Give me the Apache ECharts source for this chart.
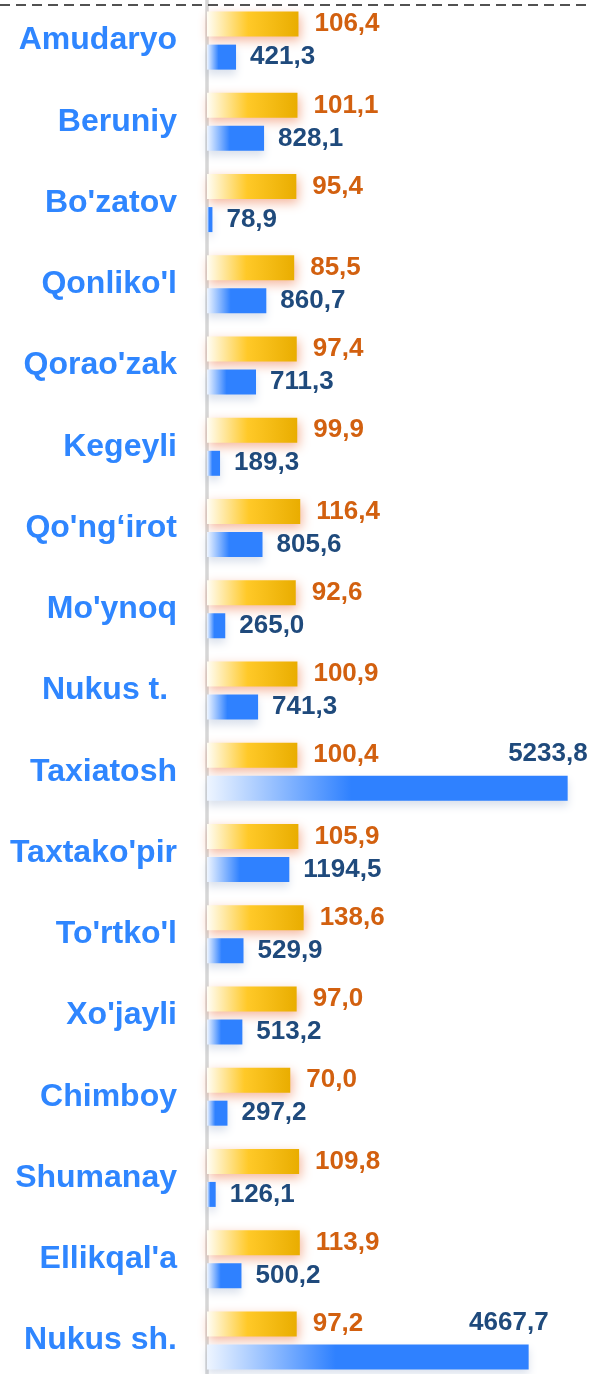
<!DOCTYPE html>
<html>
<head>
<meta charset="utf-8">
<script src="https://cdn.jsdelivr.net/npm/echarts@6/dist/echarts.min.js"></script>
<style>
html,body{margin:0;padding:0;background:#fff;}
#chart{width:591px;height:1374px;}
</style>
</head>
<body>
<div id="chart"></div>
<script>
const categories = ['Amudaryo', 'Beruniy', "Bo'zatov", "Qonliko'l", "Qorao'zak", 'Kegeyli', 'Qo\'ng\u2018irot', "Mo'ynoq", 'Nukus t. ', 'Taxiatosh', "Taxtako'pir", "To'rtko'l", "Xo'jayli", 'Chimboy', 'Shumanay', "Ellikqal'a", 'Nukus sh.'];
const growthPct = [106.4, 101.1, 95.4, 85.5, 97.4, 99.9, 116.4, 92.6, 100.9, 100.4, 105.9, 138.6, 97.0, 70.0, 109.8, 113.9, 97.2];
const volume = [421.3, 828.1, 78.9, 860.7, 711.3, 189.3, 805.6, 265.0, 741.3, 5233.8, 1194.5, 529.9, 513.2, 297.2, 126.1, 500.2, 4667.7];

const fmt = v => Number(v).toFixed(1).replace('.', ',');
const FONT = '"Liberation Sans", Arial, sans-serif';
const vmax = Math.max(...volume);

const volumeData = volume.map(v => {
  if (v > vmax * 0.5) {
    return {
      value: v,
      label: { position: ['100%', 0], align: 'right', verticalAlign: 'middle', offset: [20, -22] }
    };
  }
  return v;
});

const chart = echarts.init(document.getElementById('chart'), null, { renderer: 'canvas' });
chart.setOption({
  animation: false,
  backgroundColor: '#ffffff',
  grid: { left: 207, right: 5, top: 0, height: 1381, containLabel: false, outerBoundsMode: 'none' },
  yAxis: {
    type: 'category',
    data: categories,
    inverse: true,
    offset: 3,
    axisLine: { show: true, lineStyle: { color: '#d6d6d6', width: 3.5 } },
    axisTick: { show: false },
    splitLine: { show: false },
    axisLabel: { color: '#2f86ff', fontSize: 32, fontWeight: 'bold', fontFamily: FONT, margin: 27 }
  },
  xAxis: [
    { type: 'log', logBase: 10, min: 1, max: 250000000, show: false },
    { type: 'value', min: 0, max: 5500, show: false }
  ],
  series: [
    {
      name: 'growth',
      type: 'bar',
      xAxisIndex: 0,
      data: growthPct,
      barWidth: 25,
      barGap: '32%',
      itemStyle: {
        color: new echarts.graphic.LinearGradient(0, 0, 1, 0, [
          { offset: 0, color: '#fffdf5' },
          { offset: 0.45, color: '#ffc928' },
          { offset: 1, color: '#e9ad00' }
        ]),
        shadowColor: 'rgba(235,110,60,0.5)',
        shadowBlur: 11,
        shadowOffsetX: 2,
        shadowOffsetY: 4
      },
      label: {
        show: true, position: 'right', distance: 16,
        formatter: p => fmt(p.value),
        color: '#d2600f', fontSize: 26, fontWeight: 'bold', fontFamily: FONT
      }
    },
    {
      name: 'volume',
      type: 'bar',
      xAxisIndex: 1,
      data: volumeData,
      barWidth: 25,
      itemStyle: {
        color: new echarts.graphic.LinearGradient(0, 0, 1, 0, [
          { offset: 0, color: '#eef5ff' },
          { offset: 0.4, color: '#2f81ff' },
          { offset: 1, color: '#2f81ff' }
        ]),
        shadowColor: 'rgba(90,120,170,0.22)',
        shadowBlur: 8,
        shadowOffsetY: 5
      },
      label: {
        show: true, position: 'right', distance: 14,
        formatter: p => fmt(p.value),
        color: '#1f4a7c', fontSize: 26, fontWeight: 'bold', fontFamily: FONT
      }
    }
  ],
  graphic: [
    {
      type: 'line', z: 100,
      shape: { x1: 0, y1: 5, x2: 591, y2: 5 },
      style: { stroke: '#1a1a1a', lineWidth: 1.5, lineDash: [10, 6] }
    }
  ]
});
</script>
</body>
</html>
